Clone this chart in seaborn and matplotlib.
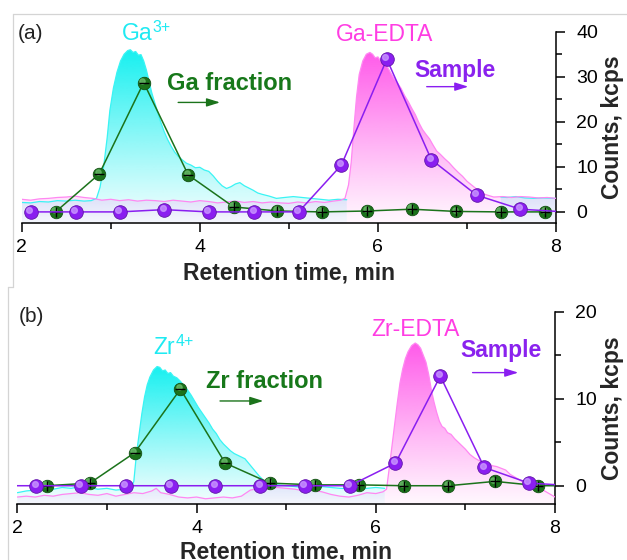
import numpy as np
import matplotlib
matplotlib.use("Agg")
import matplotlib.pyplot as plt
import matplotlib.colors as mcolors
import matplotlib.transforms as mtransforms
from matplotlib.path import Path
from matplotlib.lines import Line2D
import seaborn as sns
import pandas as pd

sns.set_style("ticks")
plt.rcParams['font.family'] = ['Liberation Sans', 'DejaVu Sans']

# ---- panel (a): Ga ----
ga_ion_t = [2.00, 2.10, 2.20, 2.30, 2.40, 2.50, 2.60, 2.70, 2.78, 2.84, 2.88, 2.92, 2.96, 2.99,
            3.03, 3.07, 3.11, 3.15, 3.19, 3.22, 3.25, 3.28, 3.31, 3.34, 3.37, 3.40, 3.43, 3.46,
            3.49, 3.52, 3.56, 3.60, 3.64, 3.68, 3.72, 3.76, 3.80, 3.85, 3.90, 3.95, 4.00, 4.05,
            4.10, 4.15, 4.20, 4.25, 4.30, 4.35, 4.40, 4.45, 4.50, 4.55, 4.60, 4.65, 4.70, 4.78,
            4.86, 4.95, 5.05, 5.15, 5.25, 5.35, 5.45, 5.55, 5.65, 5.70,
            7.38, 7.45, 7.55, 7.65, 7.75, 7.85, 8.00]
ga_ion_c = [2.1, 2.0, 2.3, 2.2, 2.5, 2.4, 2.6, 2.4, 2.5, 3.0, 5.5, 10.0, 16.5, 22.5,
            27.5, 31.0, 33.5, 35.0, 35.8, 36.0, 35.4, 35.6, 34.8, 34.9, 33.5, 31.5, 29.0, 26.5,
            24.5, 22.6, 20.0, 17.8, 16.0, 14.5, 13.2, 12.3, 11.6, 10.8, 10.4, 9.8, 9.9, 9.3,
            9.0, 8.0, 6.8, 5.8, 5.2, 5.6, 6.2, 6.5, 5.8, 5.3, 4.8, 4.2, 3.9, 3.5,
            3.0, 3.2, 3.4, 3.2, 3.0, 2.8, 2.6, 2.8, 2.7, np.nan,
            3.3, 3.2, 3.4, 3.1, 3.0, 3.1, 3.0]

ga_edta_t = [2.00, 2.10, 2.20, 2.30, 2.40, 2.50, 2.60, 2.70, 2.80, 2.90, 3.00, 3.10, 3.20, 3.30,
             3.40, 3.50, 3.60, 3.70, 3.80, 3.90, 4.00, 4.10, 4.20, 4.30, 4.40, 4.50, 4.60, 4.70,
             4.80, 4.90, 5.00, 5.10, 5.20, 5.30, 5.40, 5.50, 5.58, 5.63, 5.67, 5.70, 5.73, 5.76,
             5.79, 5.83, 5.87, 5.91, 5.94, 5.97, 6.00, 6.03, 6.07, 6.10, 6.14, 6.18, 6.22, 6.26,
             6.30, 6.34, 6.38, 6.42, 6.46, 6.50, 6.54, 6.58, 6.62, 6.66, 6.70, 6.75, 6.80, 6.85,
             6.90, 6.95, 7.00, 7.05, 7.10, 7.15, 7.20, 7.25, 7.30, 7.40, 7.50, 7.60, 7.70, 7.80,
             7.90, 8.00]
ga_edta_c = [2.8, 2.6, 2.9, 3.0, 3.2, 3.3, 3.5, 3.2, 3.0, 2.6, 2.8, 2.5, 2.7, 2.4,
             2.6, 2.5, 2.3, 2.6, 2.4, 2.2, 2.5, 2.3, 2.0, 2.2, 2.4, 2.1, 2.3, 2.0,
             2.2, 2.0, 1.9, 2.2, 2.0, 2.3, 2.1, 2.4, 2.6, 3.0, 6.0, 11.0, 18.5, 25.5,
             30.5, 33.5, 35.0, 35.4, 35.0, 34.2, 34.4, 33.5, 32.8, 32.4, 31.0, 29.6, 28.6, 27.4,
             25.8, 24.5, 23.0, 21.6, 19.8, 18.3, 17.2, 16.2, 14.8, 13.5, 12.8, 11.8, 10.9, 9.8,
             8.8, 7.9, 6.8, 6.0, 5.2, 4.4, 3.9, 3.6, 3.3, 3.4, 3.2, 3.4, 3.3, 3.1,
             3.2, 3.0]

ga_frac_t = [2.38, 2.87, 3.37, 3.87, 4.38, 4.87, 5.37, 5.88, 6.38, 6.88, 7.38, 7.88]
ga_frac_c = [0.0, 8.4, 28.7, 8.2, 1.1, 0.2, 0.0, 0.2, 0.6, 0.1, 0.0, 0.0]
ga_frac_err = [1.1, 0.0, 0.0, 0.0, 1.1, 1.1, 1.1, 1.1, 1.1, 1.1, 1.1, 1.1]

ga_sample_t = [2.10, 2.61, 3.10, 3.60, 4.10, 4.61, 5.11, 5.59, 6.10, 6.60, 7.11, 7.60, 8.10]
ga_sample_c = [0.0, 0.0, 0.0, 0.5, 0.0, 0.0, 0.0, 10.4, 33.9, 11.6, 3.7, 0.6, 0.0]

# ---- panel (b): Zr ----
zr_ion_t = [2.00, 2.10, 2.20, 2.30, 2.40, 2.50, 2.60, 2.70, 2.80, 2.90, 3.00, 3.10, 3.20, 3.27,
            3.30, 3.33, 3.36, 3.39, 3.42, 3.45, 3.48, 3.52, 3.56, 3.59, 3.62, 3.65, 3.68, 3.71,
            3.74, 3.78, 3.82, 3.86, 3.90, 3.94, 3.98, 4.02, 4.06, 4.10, 4.14, 4.18, 4.22, 4.26,
            4.30, 4.34, 4.38, 4.42, 4.46, 4.50, 4.54, 4.58, 4.62, 4.66, 4.70, 4.75, 4.80, 4.90,
            5.00, 5.20, 5.40, 5.60, 5.80, 6.00, 6.10]
zr_ion_c = [-0.8, -0.6, -0.5, -0.3, -0.4, -0.2, -0.3, -0.1, -0.2, -0.4, -0.3, -0.5, -0.4, -0.3,
            0.5, 3.7, 6.0, 8.3, 10.2, 11.6, 12.5, 13.3, 13.7, 13.6, 13.2, 13.3, 12.9, 13.0,
            12.6, 12.4, 12.0, 11.5, 11.0, 10.4, 9.7, 9.0, 8.4, 7.8, 7.2, 6.5, 6.0, 5.3,
            4.8, 4.4, 4.0, 3.7, 3.5, 3.3, 3.1, 2.6, 2.1, 1.6, 1.1, 0.6, 0.3, 0.1,
            0.0, -0.2, -0.1, -0.3, -0.4, -0.2, -0.3]

zr_edta_t = [2.00, 2.10, 2.20, 2.30, 2.40, 2.50, 2.60, 2.70, 2.80, 2.90, 3.00, 3.10, 3.20, 3.30,
             3.40, 3.50, 3.55, 3.60, 3.70, 3.80, 3.90, 4.00, 4.10, 4.20, 4.30, 4.40, 4.50, 4.60,
             4.70, 4.80, 4.90, 5.00, 5.10, 5.20, 5.30, 5.40, 5.50, 5.60, 5.70, 5.80, 5.90, 6.00,
             6.08, 6.12, 6.15, 6.18, 6.21, 6.24, 6.27, 6.30, 6.33, 6.36, 6.40, 6.44, 6.47, 6.50,
             6.53, 6.56, 6.59, 6.62, 6.65, 6.68, 6.71, 6.74, 6.77, 6.80, 6.84, 6.88, 6.92, 6.96,
             7.00, 7.05, 7.10, 7.15, 7.20, 7.25, 7.30, 7.35, 7.40, 7.45, 7.50, 7.55, 7.60, 7.65,
             7.70, 7.75, 7.80, 7.85, 7.90, 7.95, 8.00]
zr_edta_c = [-1.3, -1.2, -1.3, -1.1, -1.2, -1.0, -0.9, -0.8, -1.0, -1.1, -0.9, -1.2, -1.0, -0.8,
             -0.9, -0.6, -0.3, -0.8, -1.0, -1.3, -1.4, -1.3, -1.5, -1.4, -1.3, -1.4, -1.2, -0.5,
             -0.3, -0.4, -0.2, -0.3, -0.4, -0.6, -0.5, -0.7, -1.0, -1.2, -1.3, -1.1, -0.8, -0.9,
             -0.7, -0.4, 2.0, 4.5, 7.0, 9.5, 11.8, 13.4, 14.6, 15.4, 16.1, 16.4, 16.2, 15.8,
             15.0, 14.2, 12.8, 11.0, 9.6, 8.4, 7.4, 6.8, 6.6, 6.1, 5.9, 5.4, 5.0, 4.6,
             4.2, 3.6, 3.2, 2.9, 2.7, 2.6, 2.3, 2.2, 2.0, 1.8, 1.3, 1.0, 0.7, 0.4,
             0.1, -0.1, -0.3, -0.4, -0.7, -1.0, -1.3]

zr_frac_t = [2.33, 2.81, 3.31, 3.82, 4.32, 4.82, 5.32, 5.81, 6.31, 6.81, 7.33, 7.81, 8.31]
zr_frac_c = [0.0, 0.3, 3.8, 11.1, 2.6, 0.3, 0.1, 0.1, 0.0, 0.0, 0.5, 0.0, 0.0]
zr_frac_err = [0.6, 0.6, 0.0, 0.0, 0.0, 0.6, 0.6, 0.6, 0.6, 0.6, 0.6, 0.6, 0.6]

zr_sample_t = [1.71, 2.21, 2.71, 3.21, 3.71, 4.21, 4.71, 5.21, 5.71, 6.22, 6.72, 7.21, 7.71, 8.21]
zr_sample_c = [0.0, 0.0, 0.0, 0.0, 0.0, 0.0, 0.0, 0.0, 0.0, 2.6, 12.6, 2.1, 0.3, 0.0]

CYAN_LINE, CYAN_FILL, CYAN_TEXT = "#3AF4F4", "#16F0F0", "#1FEAF2"
MAG_LINE, MAG_FILL, MAG_TEXT = "#FF88F2", "#FF5AEA", "#FF3DE3"
GREEN, GREEN_HI, GREEN_TEXT = "#1B731B", "#69B869", "#17781A"
PURPLE, PURPLE_HI, PURPLE_TEXT = "#8A1EF0", "#C895FF", "#8A22EE"


def gradient_fill(ax, t, c, color, ybot, z):
    t = np.asarray(t, dtype=float)
    c = np.asarray(c, dtype=float)
    coll = ax.fill_between(t, c, ybot, facecolor="none", edgecolor="none")
    path = Path.make_compound_path(*coll.get_paths())
    top = np.nanmax(c)
    grad = np.zeros((256, 1, 4))
    grad[:, 0, :3] = mcolors.to_rgb(color)
    grad[:, 0, 3] = np.linspace(0.06, 1.0, 256) ** 1.1
    im = ax.imshow(grad, aspect="auto", origin="lower", interpolation="bilinear",
                   extent=[t.min(), t.max(), ybot, top], zorder=z)
    im.set_clip_path(path, transform=ax.transData)


def spheres(ax, fig, t, c, color, hi, size, z):
    df = pd.DataFrame({"t": t, "c": c})
    sns.lineplot(data=df, x="t", y="c", ax=ax, color=color, lw=1.1, sort=False,
                 estimator=None, marker="o", markersize=size, markerfacecolor=color,
                 markeredgecolor=mcolors.to_hex(np.array(mcolors.to_rgb(color)) * 0.7),
                 markeredgewidth=0.6, zorder=z)
    off = mtransforms.offset_copy(ax.transData, fig=fig, x=-1.6, y=1.8, units="dots")
    ax.plot(t, c, ls="none", marker="o", markersize=size * 0.42, color=hi,
            alpha=0.8, transform=off, zorder=z + 0.5)


def ion_label(ax, x, y, base, sup):
    t = ax.text(x, y, base, fontsize=16.5, color=CYAN_TEXT, ha="left", va="baseline")
    ax.annotate(sup, xy=(1, 1), xycoords=t, xytext=(0.5, 1.5), textcoords="offset points",
                fontsize=11.5, color=CYAN_TEXT, ha="left", va="top")


def panel(ax, fig, ion_t, ion_c, edta_t, edta_c, frac_t, frac_c, frac_err,
          samp_t, samp_c, ylim, yticks, minor, texts, xlab_y):
    ybot = ylim[0]
    gradient_fill(ax, ion_t, ion_c, CYAN_FILL, ybot, 1)
    gradient_fill(ax, edta_t, edta_c, MAG_FILL, ybot, 2)
    ax.plot(ion_t, ion_c, color=CYAN_LINE, lw=0.9, zorder=3)
    ax.plot(edta_t, edta_c, color=MAG_LINE, lw=0.9, zorder=3)

    spheres(ax, fig, frac_t, frac_c, GREEN, GREEN_HI, 9.0, 5)
    ax.errorbar(frac_t, frac_c, xerr=0.055, yerr=frac_err, fmt="none",
                ecolor="black", elinewidth=1.0, capsize=0, zorder=6)
    spheres(ax, fig, samp_t, samp_c, PURPLE, PURPLE_HI, 9.8, 7)

    ax.set_xlim(2, 8)
    ax.set_ylim(*ylim)
    ax.set_xticks([2, 4, 6, 8])
    ax.set_xticks([3, 5, 7], minor=True)
    ax.set_yticks(yticks)
    ax.set_yticks(minor, minor=True)
    ax.yaxis.tick_right()
    ax.spines["left"].set_visible(False)
    ax.spines["top"].set_visible(False)
    ax.spines["right"].set_visible(True)
    for s in ("bottom", "right"):
        ax.spines[s].set_linewidth(1.1)
        ax.spines[s].set_color("black")
    ax.spines["right"].set_bounds(ylim[0], yticks[-1])
    ax.tick_params(which="major", direction="out", length=6.5, width=1.1,
                   labelsize=14, colors="black")
    ax.tick_params(which="minor", direction="out", length=4, width=1.1, colors="black")
    ax.tick_params(axis="y", which="major", pad=8)
    ax.tick_params(axis="x", which="major", pad=5)

    ax.set_xlabel("Retention time, min", fontsize=16.5, fontweight="bold")
    ax.xaxis.set_label_coords(0.5, xlab_y)
    ax.set_ylabel("Counts, kcps", fontsize=16.5, fontweight="bold")
    ax.yaxis.set_label_position("right")
    ax.yaxis.set_label_coords(1.106, 0.5)
    ax.yaxis.label.set_verticalalignment("center")

    for (x, y, s, kw) in texts:
        if isinstance(s, tuple):
            ion_label(ax, x, y, s[0], s[1])
        else:
            ax.text(x, y, s, clip_on=False, **kw)


fig = plt.figure(figsize=(6.27, 5.6), dpi=100)
ax1 = fig.add_axes([0.0346, 0.6023, 0.8522, 0.3411])
ax2 = fig.add_axes([0.0276, 0.1000, 0.8576, 0.3434])

lab = dict(fontsize=15, color="#222222", ha="center", va="center")
edta_kw = dict(fontsize=16.5, color=MAG_TEXT, ha="center", va="baseline")
frac_kw = dict(fontsize=17, color=GREEN_TEXT, fontweight="bold", ha="center", va="baseline")
samp_kw = dict(fontsize=16.5, color=PURPLE_TEXT, fontweight="bold", ha="center", va="baseline")

texts_a = [(2.10, 39.7, "(a)", lab),
           (3.12, 38.2, ("Ga", "3+"), None),
           (6.07, 37.9, "Ga-EDTA", edta_kw),
           (4.335, 27.0, "Ga fraction", frac_kw),
           (6.866, 29.9, "Sample", samp_kw)]
texts_b = [(2.16, 19.5, "(b)", lab),
           (3.515, 15.1, ("Zr", "4+"), None),
           (6.44, 17.2, "Zr-EDTA", edta_kw),
           (4.76, 11.2, "Zr fraction", frac_kw),
           (7.40, 14.8, "Sample", samp_kw)]

panel(ax1, fig, ga_ion_t, ga_ion_c, ga_edta_t, ga_edta_c, ga_frac_t, ga_frac_c, ga_frac_err,
      ga_sample_t, ga_sample_c, (-2.4, 40), [0, 10, 20, 30, 40], [5, 15, 25, 35], texts_a, -0.205)
panel(ax2, fig, zr_ion_t, zr_ion_c, zr_edta_t, zr_edta_c, zr_frac_t, zr_frac_c, zr_frac_err,
      zr_sample_t, zr_sample_c, (-2.1, 20), [0, 10, 20], [5, 15], texts_b, -0.19)

arrows = [(ax1, 3.757, 4.227, 24.3, GREEN), (ax1, 6.548, 7.015, 27.8, PURPLE),
          (ax2, 4.262, 4.745, 9.74, GREEN), (ax2, 7.08, 7.59, 13.0, PURPLE)]
for a, x1, x2, y, col in arrows:
    a.annotate("", xy=(x2, y), xytext=(x1, y), annotation_clip=False,
               arrowprops=dict(arrowstyle="-|>,head_length=0.8,head_width=0.25",
                               color=col, lw=1.0, shrinkA=0, shrinkB=0))

# light grey panel borders from the original composite
W, H = 627.0, 560.0
frame = [((13, 14), (627, 14)), ((13, 14), (13, 287)), ((13, 287), (8, 287)), ((8, 287), (8, 560))]
for (xa, ya), (xb, yb) in frame:
    fig.add_artist(Line2D([xa / W, xb / W], [1 - ya / H, 1 - yb / H],
                          transform=fig.transFigure, color="#d4d4d4", lw=0.9))

fig.savefig("out.png", dpi=100)
